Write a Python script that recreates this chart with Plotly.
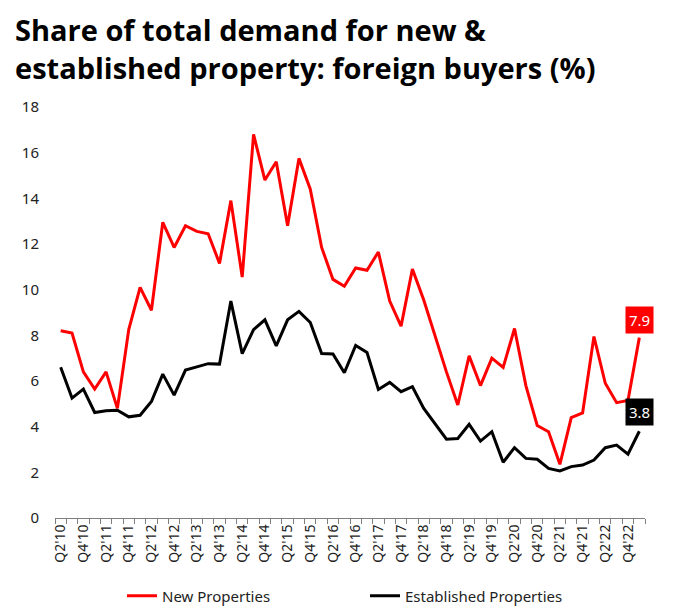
import plotly.graph_objects as go

quarters = [f"Q{q}'{y:02d}" for y in range(10, 24) for q in (1, 2, 3, 4)][1:53]

new_props = [8.2, 8.1, 6.4, 5.65, 6.4, 4.8, 8.25, 10.1, 9.1, 12.95, 11.85, 12.8, 12.55, 12.45, 11.15, 13.9,
             10.55, 16.8, 14.8, 15.6, 12.8, 15.75, 14.4, 11.85, 10.45, 10.15, 10.95, 10.85, 11.65, 9.5, 8.4, 10.9,
             9.55, 7.95, 6.4, 4.95, 7.1, 5.8, 7.0, 6.6, 8.3, 5.8, 4.05, 3.78, 2.35, 4.4, 4.6, 7.95, 5.9, 5.05, 5.15, 7.9]
established = [6.6, 5.25, 5.65, 4.62, 4.7, 4.72, 4.43, 4.5, 5.1, 6.3, 5.38, 6.48, 6.62, 6.76, 6.74, 9.5,
               7.2, 8.25, 8.68, 7.54, 8.68, 9.05, 8.56, 7.2, 7.18, 6.36, 7.56, 7.25, 5.63, 5.94, 5.53, 5.75,
               4.8, 4.1, 3.45, 3.48, 4.1, 3.37, 3.78, 2.44, 3.08, 2.61, 2.57, 2.17, 2.06, 2.25, 2.32, 2.54, 3.08, 3.19, 2.8, 3.8]

title_lines = ["Share of total demand for new &", "established property: foreign buyers (%)"]

xs = list(range(len(quarters)))

# the page body adds an 8px offset; size the figure so it fits the 674x613 window
OFF = 8
W, H = 674 - OFF, 613 - OFF
L, R, T, B = 47, 29, 99, 95
PW, PH = W - L - R, H - T - B

def px_x(p):
    # p: pixel x in window coordinates
    return (p - OFF - L) / PW

def px_y(p):
    return (H - B - (p - OFF)) / PH

fig = go.Figure()
fig.add_trace(go.Scatter(x=xs, y=new_props, mode="lines", name="New Properties",
                         line=dict(color="#FF0000", width=3)))
fig.add_trace(go.Scatter(x=xs, y=established, mode="lines", name="Established Properties",
                         line=dict(color="#000000", width=3)))

fig.add_annotation(x=xs[-1], y=new_props[-1], text=f"{new_props[-1]:.1f}", showarrow=False,
                   yshift=18, bgcolor="#FF0000", font=dict(color="white", size=15, family="Noto Sans"),
                   borderpad=3)
fig.add_annotation(x=xs[-1], y=established[-1], text=f"{established[-1]:.1f}", showarrow=False,
                   yshift=19, bgcolor="#000000", font=dict(color="white", size=15, family="Noto Sans"),
                   borderpad=3)

fig.add_annotation(x=px_x(13), y=px_y(48), xref="paper", yref="paper",
                   xanchor="left", yanchor="middle", align="left", showarrow=False,
                   text="<br>".join(title_lines),
                   font=dict(family="Open Sans", size=29, color="#000000", weight="bold"))

fig.update_layout(
    width=W, height=H,
    margin=dict(l=L, r=R, t=T, b=B, autoexpand=False),
    paper_bgcolor="white", plot_bgcolor="white",
    font=dict(family="Noto Sans", color="#222222"),
    showlegend=True,
    legend=dict(orientation="h", x=px_x(122), xanchor="left", y=px_y(596), yanchor="middle",
                font=dict(size=15, color="#222222"), entrywidth=198, entrywidthmode="pixels"),
    xaxis=dict(range=[-0.5, len(quarters) - 0.5], tickmode="array", automargin=False,
               tickvals=xs[::2], ticktext=quarters[::2], tickangle=-90,
               ticks="", showgrid=False, zeroline=False,
               showline=True, linecolor="#7f7f7f", linewidth=1,
               tickfont=dict(size=14, color="#222222"),
               minor=dict(tickmode="linear", tick0=-0.5, dtick=1, ticks="outside",
                          ticklen=5, tickcolor="#7f7f7f", tickwidth=1, showgrid=False)),
    yaxis=dict(range=[0, 18], dtick=2, showgrid=False, zeroline=False, showline=False, automargin=False,
               ticks="", ticklabelstandoff=15, tickfont=dict(size=15, color="#222222")),
)

fig.write_html("out.html")
